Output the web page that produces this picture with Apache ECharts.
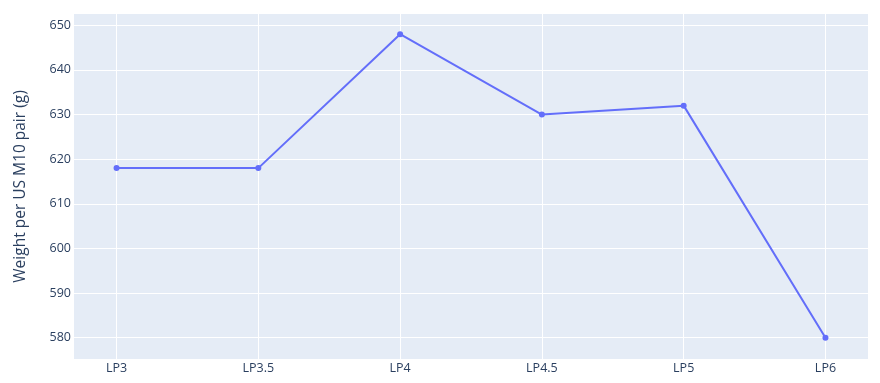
<!DOCTYPE html>
<html><head><meta charset="utf-8">
<script src="https://cdn.jsdelivr.net/npm/echarts@6/dist/echarts.min.js"></script>
<style>html,body{margin:0;padding:0;background:#fff}#c{width:880px;height:383px}</style>
</head><body><div id="c"></div>
<script>
const categories = ['LP3', 'LP3.5', 'LP4', 'LP4.5', 'LP5', 'LP6'];
const weights = [618, 618, 648, 630, 632, 580];
const yTicks = [580, 590, 600, 610, 620, 630, 640, 650];
const yTitle = 'Weight per US M10 pair (g)';

const idx = categories.map((_, i) => i);
const font = '"Open Sans", verdana, arial, sans-serif';
const chart = echarts.init(document.getElementById('c'), null, {renderer: 'canvas'});
chart.setOption({
  animation: false,
  grid: {left: 74, right: 12, top: 14, bottom: 24, show: true, backgroundColor: '#E5ECF6', borderWidth: 0},
  xAxis: {
    type: 'value', min: -0.3, max: 5.3,
    axisLine: {show: false},
    axisTick: {show: false, customValues: idx},
    axisLabel: {customValues: idx, formatter: v => categories[Math.round(v)], color: '#2a3f5f', fontSize: 12.5, fontFamily: font, margin: 3, showMinLabel: true, showMaxLabel: true},
    splitLine: {show: true, lineStyle: {color: '#ffffff', width: 1}}
  },
  yAxis: {
    type: 'value', min: 575.23, max: 652.53,
    name: yTitle, nameLocation: 'middle', nameGap: 45,
    nameTextStyle: {color: '#2a3f5f', fontSize: 15.5, fontFamily: font},
    axisLine: {show: false},
    axisTick: {show: false, customValues: yTicks},
    axisLabel: {customValues: yTicks, color: '#2a3f5f', fontSize: 12.5, fontFamily: font, margin: 3},
    splitLine: {show: true, lineStyle: {color: '#ffffff', width: 1}}
  },
  series: [{
    type: 'line',
    data: weights.map((w, i) => [idx[i], w]),
    lineStyle: {color: '#636EFA', width: 2},
    itemStyle: {color: '#636EFA'},
    symbol: 'circle', symbolSize: 6,
    showSymbol: true
  }]
});
</script></body></html>
